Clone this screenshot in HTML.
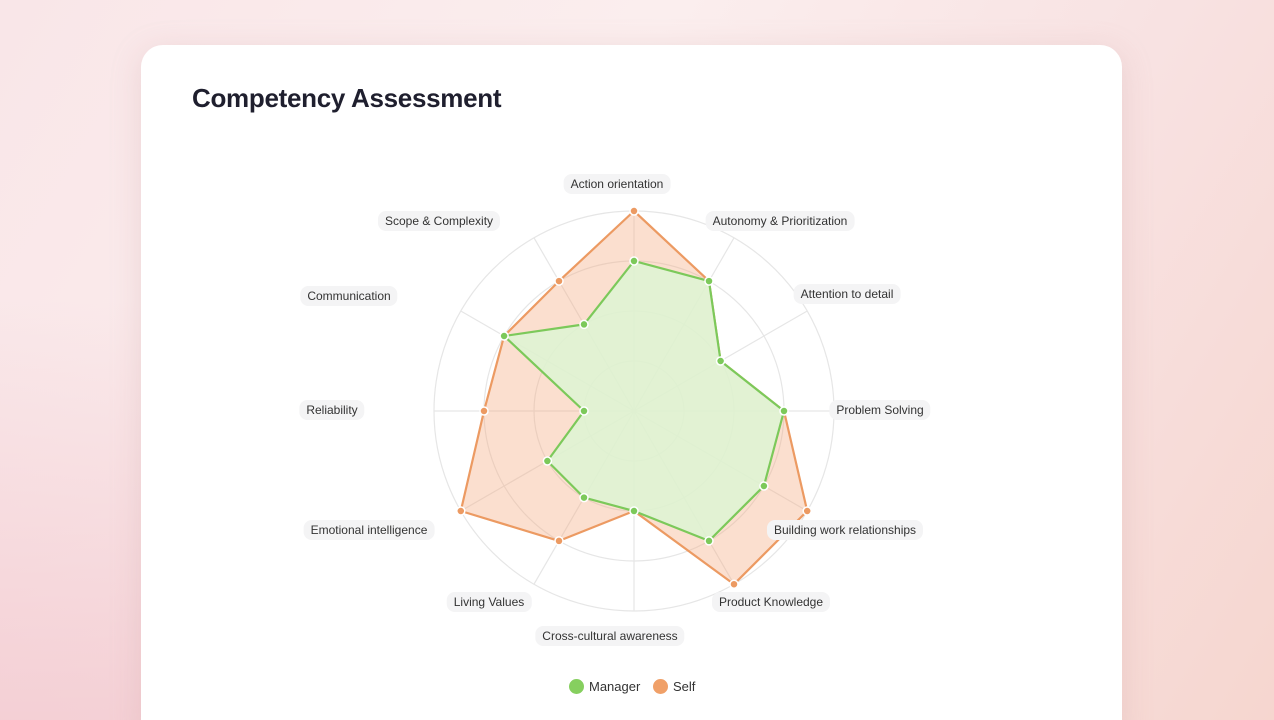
<!DOCTYPE html>
<html><head><meta charset="utf-8"><style>
html,body{margin:0;padding:0;width:1274px;height:720px;overflow:hidden;font-family:"Liberation Sans",sans-serif}
body{background:linear-gradient(120deg,#f9e6e8 0%,#fbeeee 40%,#f8e2e2 70%,#f6d6cf 100%);position:relative}
.bgl{position:absolute;left:0;top:300px;width:200px;height:420px;background:linear-gradient(180deg,rgba(240,190,200,0),rgba(238,180,190,0.5))}
.card{position:absolute;left:141px;top:45px;width:981px;height:700px;background:#fff;border-radius:22px;box-shadow:0 6px 30px rgba(200,150,150,0.25)}
h1{position:absolute;left:192px;top:83px;margin:0;font-size:26px;font-weight:600;color:#1f1f2e;letter-spacing:-0.3px}
.lbl{position:absolute;transform:translate(-50%,-50%);background:#f4f4f5;border-radius:8px;padding:3px 7px;font-size:12px;color:#333;white-space:nowrap}
.legend{position:absolute;top:679px;font-size:13px;color:#333;display:flex;align-items:center}
.dot{width:15px;height:15px;border-radius:50%;margin-right:5px;display:inline-block}
</style></head><body>
<div class="bgl"></div>
<div class="card"></div>
<h1>Competency Assessment</h1>
<svg id="radar" width="1274" height="720" style="position:absolute;left:0;top:0"></svg>
<div id="labels"></div>
<div class="legend" style="left:569px"><span class="dot" style="background:#86cf5f"></span>Manager</div>
<div class="legend" style="left:653px"><span class="dot" style="background:#f0a068"></span>Self</div>
<script>
const categories=["Action orientation","Autonomy & Prioritization","Attention to detail","Problem Solving","Building work relationships","Product Knowledge","Cross-cultural awareness","Living Values","Emotional intelligence","Reliability","Communication","Scope & Complexity"];
const managerValues=[3,3,2,3,3,3,2,2,2,1,3,2];
const selfValues=[4,3,2,3,4,4,2,3,4,3,3,3];
const maxValue=4;
const ringTicks=[1,2,3,4];
const cx=634,cy=411,R=200;
const labelPos=[[617,184],[780,221],[847,294],[880,410],[845,530],[771,602],[610,636],[489,602],[369,530],[332,410],[349,296],[439,221]];
const NS="http://www.w3.org/2000/svg";
const svg=document.getElementById('radar');
function rScale(v){return v/maxValue*R;}
function pt(i,v){const a=-Math.PI/2+i*2*Math.PI/categories.length;return [cx+rScale(v)*Math.cos(a),cy+rScale(v)*Math.sin(a)];}
function mk(tag,attrs){const e=document.createElementNS(NS,tag);for(const k in attrs)e.setAttribute(k,attrs[k]);svg.appendChild(e);return e;}
ringTicks.forEach((t,k)=>{const c=mk('circle',{cx:cx,cy:cy,r:rScale(t),fill:'none',stroke:'#e6e6e6','stroke-width':1.2});

});
categories.forEach((c,i)=>{const p=pt(i,maxValue);const l=mk('line',{x1:cx,y1:cy,x2:p[0],y2:p[1],stroke:'#e6e6e6','stroke-width':1.2});

});
function series(vals,fill,stroke,name){
 const pts=vals.map((v,i)=>pt(i,v));
 const pg=mk('polygon',{points:pts.map(p=>p.join(',')).join(' '),fill:fill,stroke:stroke,'stroke-width':2.2,'stroke-linejoin':'round'});
 
 
 pts.forEach(p=>{const d=mk('circle',{cx:p[0],cy:p[1],r:4,fill:stroke,stroke:'#fff','stroke-width':1.5});
 
 });
}
series(selfValues,'rgba(244,170,130,0.38)','#ec9a62','self');
series(managerValues,'rgba(221,246,212,0.85)','#7cc95a','manager');
const lw=document.getElementById('labels');
categories.forEach((c,i)=>{const d=document.createElement('div');d.className='lbl';d.textContent=c;d.style.left=labelPos[i][0]+'px';d.style.top=labelPos[i][1]+'px';


lw.appendChild(d);});
</script>
</body></html>
